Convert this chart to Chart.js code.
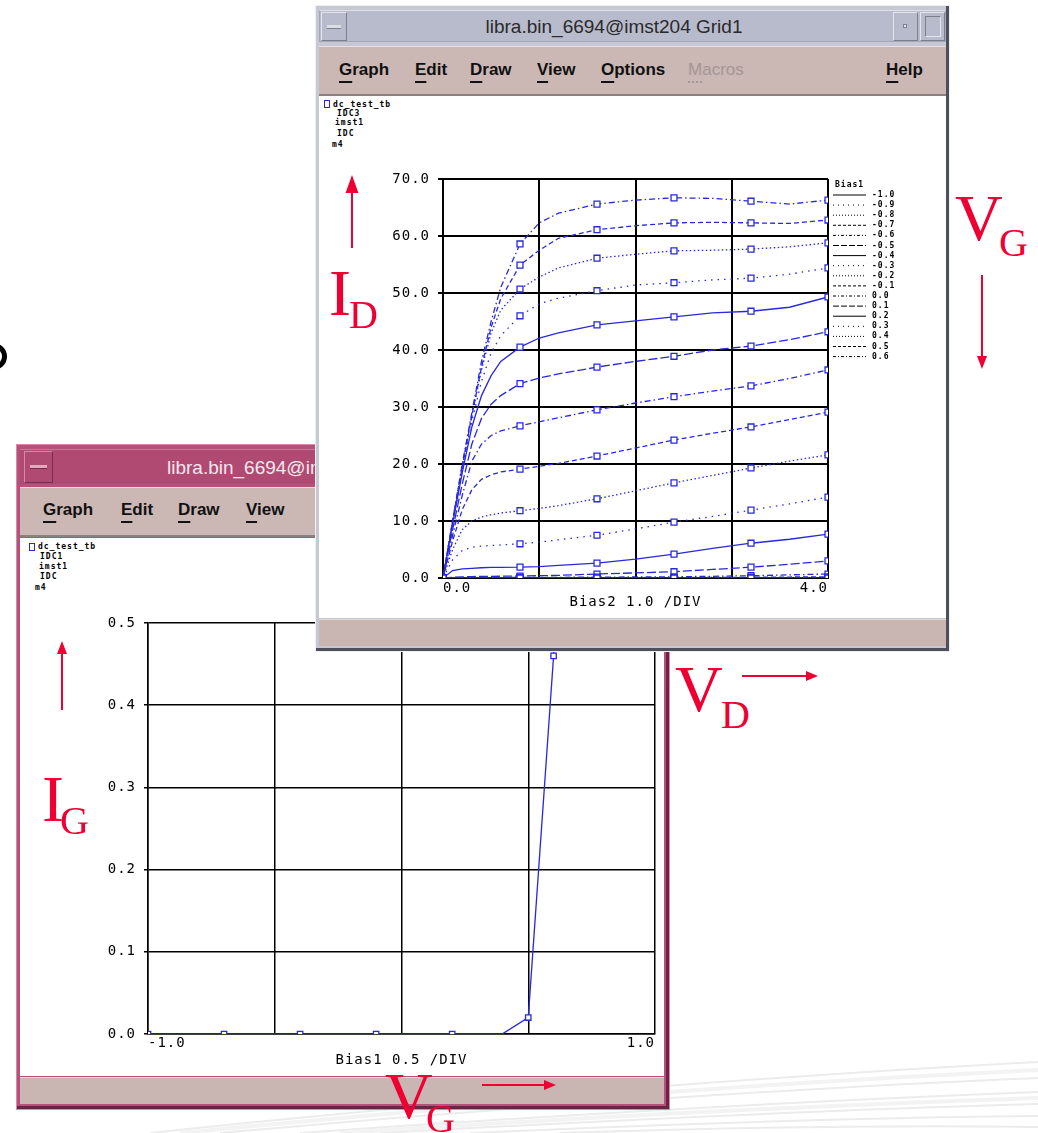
<!DOCTYPE html>
<html>
<head>
<meta charset="utf-8">
<title>libra DC curves</title>
<script src="https://cdn.jsdelivr.net/npm/chart.js"></script>
<style>
  body { margin: 0; width: 1038px; height: 1133px; position: relative; overflow: hidden; background: #fff; font-family: "Liberation Sans", Arial, sans-serif; }
  .a { position: absolute; box-sizing: border-box; }
  .mnu { position: absolute; font: bold 17px "Liberation Sans", Arial, sans-serif; line-height: 20px; color: #111; white-space: nowrap; }
  .mnu u { text-decoration-thickness: 2px; text-underline-offset: 6px; }
  .ttl { position: absolute; font: 19px "Liberation Sans", Arial, sans-serif; line-height: 22px; white-space: nowrap; }
  .lst { position: absolute; font: bold 8px "DejaVu Sans Mono", monospace; letter-spacing: 1px; line-height: 10px; color: #000; white-space: pre; }
  .sq { position: absolute; width: 6px; height: 8px; border: 1.5px solid #2929dc; box-sizing: border-box; }
  .ann { position: absolute; font-family: "Liberation Serif", "DejaVu Serif", serif; color: #ee0033; line-height: 1; white-space: nowrap; }
  .big { font-size: 66px; }
  .sub { font-size: 40px; }
  canvas { position: absolute; }
</style>
</head>
<body>

<svg class="a" style="left:0;top:0" width="1038" height="1133">
  <g fill="none" stroke="#ececec" stroke-width="2">
    <path d="M150 1133 Q 600 1085 1038 1062"/>
    <path d="M220 1133 Q 640 1095 1038 1078"/>
    <path d="M300 1133 Q 700 1105 1038 1092"/>
    <path d="M380 1133 Q 760 1112 1038 1104"/>
    <path d="M470 1133 Q 800 1118 1038 1116"/>
    <path d="M560 1133 Q 840 1124 1038 1127"/>
  </g>
  <g fill="none" stroke="#f3f3f3" stroke-width="4">
    <path d="M180 1133 Q 620 1090 1038 1070"/>
    <path d="M340 1133 Q 730 1108 1038 1098"/>
  </g>
</svg>

<div class="a" style="left:-20px;top:343px;width:27px;height:27px;border:5px solid #000;border-radius:50%"></div>

<!-- lower window: gate current -->
<div class="a" style="left:16px;top:444px;width:654px;height:666px;background:#b7517b;border:1px solid #d98aa8;box-shadow:inset -3px -3px 0 #6d2444"></div>
<div class="a" style="left:20px;top:449px;width:646px;height:35px;background:#b04a72;border-top:1px solid #c8789a"></div>
<div class="a" style="left:24px;top:451px;width:29px;height:32px;border:1px solid #d28aa6;border-right-color:#7a2a4c;border-bottom-color:#7a2a4c"></div>
<div class="a" style="left:30px;top:465px;width:17px;height:4px;background:#e2aabd;border-bottom:1px solid #7a2a4c"></div>
<div class="ttl" style="left:167px;top:457px;color:#f6e8ee">libra.bin_6694@imst204 Grid2</div>
<div class="a" style="left:20px;top:487px;width:646px;height:50px;background:#cbb7b4;border-top:1px solid #ecdfdd;border-bottom:2px solid #8e807e"></div>
<div class="mnu" style="left:43px;top:500px"><u>G</u>raph</div>
<div class="mnu" style="left:121px;top:500px"><u>E</u>dit</div>
<div class="mnu" style="left:178px;top:500px"><u>D</u>raw</div>
<div class="mnu" style="left:246px;top:500px"><u>V</u>iew</div>
<div class="a" style="left:20px;top:538px;width:644px;height:538px;background:#fff"></div>
<div class="sq" style="left:29px;top:543px"></div>
<div class="lst" style="left:38px;top:542px">dc_test_tb</div>
<div class="lst" style="left:40px;top:552px">IDC1</div>
<div class="lst" style="left:39px;top:562px">imst1</div>
<div class="lst" style="left:40px;top:572px">IDC</div>
<div class="lst" style="left:35px;top:583px">m4</div>
<canvas id="igChart" width="642" height="537" style="left:22px;top:539px"></canvas>
<div class="a" style="left:20px;top:1077px;width:644px;height:27px;background:#c9b5b2;border-top:1px solid #e6dad8"></div>

<!-- upper window: drain current -->
<div class="a" style="left:315px;top:5px;width:635px;height:647px;background:#c6c9d4;border:1px solid #eef0f4;box-shadow:inset -3px -3px 0 #4e515b"></div>
<div class="a" style="left:319px;top:10px;width:627px;height:32px;background:#b8bbcc;border:1px solid #a3a6b6;border-top-color:#dfe1e8"></div>
<div class="a" style="left:321px;top:12px;width:26px;height:29px;border:1px solid #e4e6ec;border-right-color:#7c7f8c;border-bottom-color:#7c7f8c"></div>
<div class="a" style="left:327px;top:25px;width:14px;height:4px;background:#dcdee6;border-bottom:1px solid #7c7f8c"></div>
<div class="a" style="left:893px;top:12px;width:25px;height:29px;border:1px solid #e4e6ec;border-right-color:#7c7f8c;border-bottom-color:#7c7f8c"></div>
<div class="a" style="left:903px;top:24px;width:4px;height:4px;background:#e4e6ec;border:1px solid #7c7f8c"></div>
<div class="a" style="left:920px;top:12px;width:25px;height:29px;border:1px solid #e4e6ec;border-right-color:#7c7f8c;border-bottom-color:#7c7f8c"></div>
<div class="a" style="left:925px;top:16px;width:16px;height:21px;border:1px solid #7c7f8c;border-right-color:#e4e6ec;border-bottom-color:#e4e6ec"></div>
<div class="ttl" style="left:314px;top:16px;width:600px;text-align:center;color:#2a2a2a">libra.bin_6694@imst204 Grid1</div>
<div class="a" style="left:319px;top:46px;width:627px;height:50px;background:#cbb7b4;border-top:1px solid #ecdfdd;border-bottom:2px solid #8e807e"></div>
<div class="mnu" style="left:339px;top:60px"><u>G</u>raph</div>
<div class="mnu" style="left:415px;top:60px"><u>E</u>dit</div>
<div class="mnu" style="left:470px;top:60px"><u>D</u>raw</div>
<div class="mnu" style="left:537px;top:60px"><u>V</u>iew</div>
<div class="mnu" style="left:601px;top:60px"><u>O</u>ptions</div>
<div class="mnu" style="left:688px;top:60px;color:#a39695;font-weight:normal"><u style="text-decoration-style:dotted">M</u>acros</div>
<div class="mnu" style="left:886px;top:60px"><u>H</u>elp</div>
<div class="a" style="left:319px;top:96px;width:627px;height:522px;background:#fff"></div>
<div class="sq" style="left:324px;top:100px"></div>
<div class="lst" style="left:333px;top:100px">dc_test_tb</div>
<div class="lst" style="left:337px;top:109px">IDC3</div>
<div class="lst" style="left:335px;top:118px">imst1</div>
<div class="lst" style="left:337px;top:129px">IDC</div>
<div class="lst" style="left:332px;top:140px">m4</div>
<canvas id="idChart" width="625" height="520" style="left:320px;top:97px"></canvas>
<div class="a" style="left:319px;top:619px;width:627px;height:27px;background:#c9b5b2;border-top:1px solid #e6dad8"></div>

<!-- red annotations -->
<div class="ann big" style="left:329px;top:260px">I</div>
<div class="ann sub" style="left:349px;top:295px">D</div>
<div class="ann big" style="left:955px;top:185px">V</div>
<div class="ann sub" style="left:999px;top:223px">G</div>
<div class="ann big" style="left:675px;top:656px">V</div>
<div class="ann sub" style="left:721px;top:695px">D</div>
<div class="ann big" style="left:42px;top:766px">I</div>
<div class="ann sub" style="left:60px;top:801px">G</div>
<div class="ann big" style="left:385px;top:1063px">V</div>
<div class="ann sub" style="left:426px;top:1099px">G</div>
<svg class="a" style="left:0;top:0" width="1038" height="1133">
  <g stroke="#ee0033" stroke-width="2" fill="#ee0033">
    <line x1="352" y1="248" x2="352" y2="190"/><polygon points="347,192 357,192 352,178"/>
    <line x1="982" y1="275" x2="982" y2="357"/><polygon points="977,356 987,356 982,369" stroke="none"/>
    <line x1="742" y1="676" x2="807" y2="676"/><polygon points="806,671 806,681 818,676" stroke="none"/>
    <line x1="62" y1="710" x2="62" y2="652"/><polygon points="57,654 67,654 62,641" stroke="none"/>
    <line x1="482" y1="1085" x2="545" y2="1085"/><polygon points="544,1080 544,1090 556,1085" stroke="none"/>
  </g>
</svg>

<script>
// drain sweep (Bias2, V) and where the simulator put its square markers
const vdPoints = [0, 0.1, 0.2, 0.3, 0.4, 0.5, 0.6, 0.8, 1.0, 1.2, 1.6, 2.0, 2.4, 2.8, 3.2, 3.6, 4.0];
const markerVd = [0, 0.8, 1.6, 2.4, 3.2, 4.0];

// gate steps (Bias1, V)
const biasLevels = [-1.0, -0.9, -0.8, -0.7, -0.6, -0.5, -0.4, -0.3, -0.2, -0.1, 0.0, 0.1, 0.2, 0.3, 0.4, 0.5, 0.6];

// drain current (mA) for each gate step
const idM10 = [0, 0, 0, 0, 0, 0, 0, 0, 0, 0, 0, 0, 0, 0, 0, 0, 0];
const idM09 = [0, 0, 0, 0, 0, 0, 0, 0, 0, 0, 0, 0, 0, 0, 0, 0, 0];
const idM08 = [0, 0, 0, 0, 0, 0, 0, 0, 0, 0, 0, 0, 0, 0, 0.01, 0.02, 0.03];
const idM07 = [0, 0, 0, 0, 0, 0, 0, 0.01, 0.01, 0.02, 0.03, 0.05, 0.07, 0.1, 0.13, 0.17, 0.22];
const idM06 = [0, 0.02, 0.04, 0.05, 0.06, 0.07, 0.08, 0.1, 0.1, 0.12, 0.15, 0.18, 0.22, 0.3, 0.4, 0.55, 0.7];
const idM05 = [0, 0.12, 0.2, 0.25, 0.28, 0.3, 0.31, 0.35, 0.4, 0.46, 0.7, 0.9, 1.1, 1.5, 1.9, 2.4, 3.0];
const idM04 = [0, 1.3, 1.6, 1.7, 1.8, 1.85, 1.88, 1.9, 2.0, 2.2, 2.6, 3.3, 4.2, 5.2, 6.1, 6.8, 7.7];
const idM03 = [0, 3.2, 4.8, 5.4, 5.6, 5.7, 5.8, 6.0, 6.3, 6.7, 7.5, 8.6, 9.8, 10.8, 11.9, 13.0, 14.2];
const idM02 = [0, 5, 8.5, 10, 10.7, 11.1, 11.4, 11.8, 12.2, 12.7, 13.9, 15.3, 16.7, 18.0, 19.3, 20.5, 21.6];
const idM01 = [0, 6.5, 12, 15.5, 17.3, 18.1, 18.6, 19.1, 19.6, 20.1, 21.4, 22.8, 24.2, 25.4, 26.5, 27.8, 29.1];
const idP00 = [0, 7.5, 14.5, 20.5, 23.5, 25, 25.8, 26.7, 27.4, 28.1, 29.5, 30.7, 31.8, 32.8, 33.7, 35.0, 36.5];
const idP01 = [0, 8.5, 16.5, 23.5, 28, 30.5, 32, 34.1, 35.1, 35.8, 37.0, 38.0, 38.9, 40.0, 40.7, 41.8, 43.2];
const idP02 = [0, 9.5, 18.5, 26.5, 32, 35.5, 38, 40.5, 42.1, 43.0, 44.4, 45.1, 45.8, 46.5, 46.8, 47.5, 49.3];
const idP03 = [0, 10, 19, 27.5, 34.5, 39.5, 42.5, 46.0, 48.1, 49.1, 50.4, 51.4, 51.8, 52.3, 52.6, 53.3, 54.4];
const idP04 = [0, 10, 19.5, 28.5, 36.5, 43, 47, 50.7, 52.8, 54.4, 56.1, 56.8, 57.4, 57.5, 57.7, 58.1, 58.8];
const idP05 = [0, 10, 19.5, 28.5, 37, 44, 49, 54.9, 57.5, 59.6, 61.1, 61.8, 62.3, 62.4, 62.3, 62.2, 62.8];
const idP06 = [0, 10, 20, 29, 38, 45, 51, 58.6, 62.3, 64, 65.6, 66.3, 66.7, 66.6, 66.1, 65.6, 66.3];
const idCurves = [idM10, idM09, idM08, idM07, idM06, idM05, idM04, idM03, idM02, idM01,
                  idP00, idP01, idP02, idP03, idP04, idP05, idP06];

// gate sweep for the IG plot
const vgSweep = [-1.0, -0.9, -0.8, -0.7, -0.6, -0.5, -0.4, -0.3, -0.2, -0.1, 0.0, 0.1, 0.2, 0.3, 0.4, 0.5, 0.6, 0.7];
const igValues = [0, 0, 0, 0, 0, 0, 0, 0, 0, 0, 0, 0, 0, 0, 0.0005, 0.02, 0.46, 1.9];
const markerVg = [-1.0, -0.7, -0.4, -0.1, 0.2, 0.5, 0.6];

const BLUE = '#2929dc';
const curveDash = [[], [1.5, 5], [1.5, 2.5], [5, 3], [6, 3, 1.5, 3], [9, 3]];
const keyDash = [[], [1, 4], [1, 2], [3, 2], [3, 2, 1, 2], [6, 2]];
const monoFont = { family: '"DejaVu Sans Mono", monospace', size: 14, lineHeight: 1 };

const isMarker = (list, v) => list.some(m => Math.abs(m - v) < 1e-6);

// old plotter look: spaced-out mono labels
const spacingPlugin = {
    id: 'spacing',
    beforeLayout(chart) { chart.ctx.letterSpacing = '1px'; },
    beforeDraw(chart) { chart.ctx.letterSpacing = '1px'; }
};

// the Bias1 key sits in the margin right of the grid
const biasKeyPlugin = {
    id: 'biasKey',
    afterDraw(chart) {
        const ctx = chart.ctx;
        const area = chart.chartArea;
        ctx.save();
        ctx.letterSpacing = '1px';
        ctx.font = 'bold 8px "DejaVu Sans Mono", monospace';
        ctx.fillStyle = '#000';
        ctx.textBaseline = 'middle';
        ctx.fillText('Bias1', area.right + 7, area.top + 6);
        chart.data.datasets.forEach((ds, i) => {
            const y = area.top + 16 + i * 10.1;
            ctx.strokeStyle = '#000';
            ctx.lineWidth = 1;
            ctx.setLineDash(keyDash[i % keyDash.length]);
            ctx.beginPath();
            ctx.moveTo(area.right + 5, y);
            ctx.lineTo(area.right + 38, y);
            ctx.stroke();
            ctx.setLineDash([]);
            ctx.fillText(ds.label, area.right + 44, y);
        });
        ctx.restore();
    }
};

function plotScales(o) {
    return {
        x: {
            type: 'linear', min: o.xMin, max: o.xMax,
            afterFit: s => { s.height = o.xHeight; },
            border: { color: '#000', width: o.gridWidth },
            grid: { color: '#000', lineWidth: o.gridWidth, drawTicks: false },
            ticks: {
                stepSize: o.xStep, autoSkip: false, maxRotation: 0, align: 'inner',
                padding: o.xTickPad, color: '#000', font: monoFont,
                callback: v => (v === o.xMin || v === o.xMax) ? v.toFixed(1) : ''
            },
            title: { display: true, text: o.xTitle, color: '#000', font: monoFont, padding: { top: 0, bottom: o.xTitlePad } }
        },
        y: {
            min: 0, max: o.yMax,
            afterFit: s => { s.width = o.yWidth; },
            border: { color: '#000', width: o.gridWidth },
            grid: { color: '#000', lineWidth: o.gridWidth, tickLength: o.yTick },
            ticks: { stepSize: o.yStep, padding: 8, color: '#000', font: monoFont, callback: v => v.toFixed(1) }
        }
    };
}

new Chart(document.getElementById('idChart').getContext('2d'), {
    type: 'line',
    data: {
        datasets: idCurves.map((ys, i) => ({
            label: biasLevels[i].toFixed(1),
            data: vdPoints.map((x, j) => ({ x, y: ys[j] })),
            borderColor: BLUE,
            borderWidth: 1.3,
            borderDash: curveDash[i % curveDash.length],
            tension: 0,
            pointStyle: 'rect',
            pointRadius: vdPoints.map(x => isMarker(markerVd, x) ? 4.2 : 0),
            pointBorderColor: BLUE,
            pointBackgroundColor: '#fff',
            pointBorderWidth: 1.3
        }))
    },
    options: {
        responsive: false, animation: false, devicePixelRatio: 1, events: [],
        layout: { padding: { top: 82, right: 117, bottom: 0, left: 0 } },
        plugins: { legend: { display: false }, tooltip: { enabled: false } },
        scales: plotScales({
            xMin: 0, xMax: 4, xStep: 1, xHeight: 39, xTickPad: 3, xTitlePad: 8, xTitle: 'Bias2 1.0 /DIV',
            yMax: 70, yStep: 10, yWidth: 123, yTick: 5, gridWidth: 2
        })
    },
    plugins: [spacingPlugin, biasKeyPlugin]
});

new Chart(document.getElementById('igChart').getContext('2d'), {
    type: 'line',
    data: {
        datasets: [{
            label: 'IG',
            data: vgSweep.map((x, j) => ({ x, y: igValues[j] })),
            borderColor: BLUE,
            borderWidth: 1.3,
            tension: 0,
            pointStyle: 'rect',
            pointRadius: vgSweep.map(x => isMarker(markerVg, x) ? 3.8 : 0),
            pointBorderColor: BLUE,
            pointBackgroundColor: '#fff',
            pointBorderWidth: 1.3
        }]
    },
    options: {
        responsive: false, animation: false, devicePixelRatio: 1, events: [],
        layout: { padding: { top: 84, right: 9, bottom: 0, left: 0 } },
        plugins: { legend: { display: false }, tooltip: { enabled: false } },
        scales: plotScales({
            xMin: -1, xMax: 1, xStep: 0.5, xHeight: 42, xTickPad: 2, xTitlePad: 9, xTitle: 'Bias1 0.5 /DIV',
            yMax: 0.5, yStep: 0.1, yWidth: 126, yTick: 4, gridWidth: 1.5
        })
    },
    plugins: [spacingPlugin]
});
</script>
</body>
</html>
